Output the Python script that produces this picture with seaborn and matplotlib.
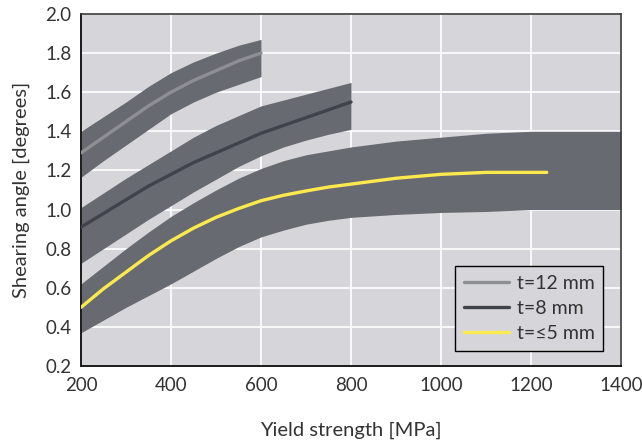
import pandas as pd
import seaborn as sns
import matplotlib.pyplot as plt

# datos
x_12 = [200, 250, 300, 350, 400, 450, 500, 550, 600]
y_12 = [1.29, 1.37, 1.45, 1.53, 1.60, 1.66, 1.71, 1.76, 1.80]
up_12 = [1.40, 1.475, 1.55, 1.63, 1.70, 1.755, 1.80, 1.84, 1.87]
lo_12 = [1.165, 1.25, 1.33, 1.41, 1.49, 1.55, 1.60, 1.64, 1.68]

x_8 = [200, 250, 300, 350, 400, 450, 500, 550, 600, 650, 700, 750, 800]
y_8 = [0.91, 0.98, 1.05, 1.12, 1.18, 1.24, 1.29, 1.34, 1.39, 1.43, 1.47, 1.51, 1.55]
up_8 = [1.01, 1.085, 1.16, 1.23, 1.30, 1.37, 1.43, 1.48, 1.53, 1.56, 1.59, 1.62, 1.65]
lo_8 = [0.725, 0.80, 0.875, 0.95, 1.02, 1.09, 1.155, 1.22, 1.275, 1.32, 1.355, 1.385, 1.41]

x_5 = [200, 250, 300, 350, 400, 450, 500, 550, 600, 650, 700, 750, 800,
       900, 1000, 1100, 1200, 1235]
y_5 = [0.50, 0.595, 0.68, 0.765, 0.84, 0.905, 0.96, 1.005, 1.045, 1.073, 1.095, 1.115, 1.13,
       1.16, 1.18, 1.19, 1.19, 1.19]
x_5_band = [200, 250, 300, 350, 400, 450, 500, 550, 600, 650, 700, 750, 800,
            900, 1000, 1100, 1200, 1300, 1400]
up_5 = [0.62, 0.71, 0.80, 0.885, 0.965, 1.035, 1.10, 1.16, 1.21, 1.25, 1.28, 1.30, 1.32,
        1.35, 1.37, 1.39, 1.40, 1.40, 1.40]
lo_5 = [0.37, 0.435, 0.50, 0.56, 0.62, 0.685, 0.75, 0.81, 0.86, 0.895, 0.925, 0.945, 0.96,
        0.975, 0.985, 0.99, 1.0, 1.0, 1.0]

labels = ["t=12 mm", "t=8 mm", "t=≤5 mm"]
line_colors = ["#8d8f95", "#40434b", "#fbe94e"]
band_color = "#676a71"

sns.set_style("whitegrid", {"axes.facecolor": "#d6d6da", "grid.color": "white"})
plt.rcParams["font.family"] = ["Lato", "DejaVu Sans"]

fig = plt.figure(figsize=(6.42, 4.41), dpi=100)
ax = fig.add_axes([0.1262, 0.1701, 0.8411, 0.7982])

# bandas
ax.fill_between(x_12, lo_12, up_12, color=band_color, lw=0, zorder=2)
ax.fill_between(x_8, lo_8, up_8, color=band_color, lw=0, zorder=2)
ax.fill_between(x_5_band, lo_5, up_5, color=band_color, lw=0, zorder=2)

# lineas
df = pd.concat([
    pd.DataFrame({"x": x_12, "y": y_12, "serie": labels[0]}),
    pd.DataFrame({"x": x_8, "y": y_8, "serie": labels[1]}),
    pd.DataFrame({"x": x_5, "y": y_5, "serie": labels[2]}),
])
sns.lineplot(data=df, x="x", y="y", hue="serie", palette=dict(zip(labels, line_colors)),
             linewidth=2.4, ax=ax, zorder=3, sort=False)

ax.set_xlim(200, 1400)
ax.set_ylim(0.2, 2.0)
ax.set_xticks(range(200, 1401, 200))
ax.set_yticks([0.2, 0.4, 0.6, 0.8, 1.0, 1.2, 1.4, 1.6, 1.8, 2.0])
ax.set_yticklabels([f"{v:.1f}" for v in ax.get_yticks()])
ax.grid(True, color="white", linewidth=1.2)
ax.tick_params(axis="both", labelsize=13.5, labelcolor="#333333", length=0)
ax.tick_params(axis="x", pad=8)
ax.tick_params(axis="y", pad=7)

ax.set_xlabel("Yield strength [MPa]", fontsize=14.5, color="#333333", labelpad=20)
ax.set_ylabel("Shearing angle [degrees]", fontsize=14.5, color="#333333", labelpad=11)

for s in ["left", "bottom"]:
    ax.spines[s].set_color("#1a1a1a")
    ax.spines[s].set_linewidth(1.4)
for s in ["top", "right"]:
    ax.spines[s].set_color("#3a3a3a")
    ax.spines[s].set_linewidth(1.2)

leg = ax.legend(loc="lower right", bbox_to_anchor=(0.967, 0.043), fontsize=14, frameon=True,
                fancybox=False, framealpha=1, edgecolor="black", handlelength=2.3,
                borderpad=0.45, labelspacing=0.42, handletextpad=0.4, borderaxespad=0.0)
leg.get_frame().set_linewidth(1.0)
for t in leg.get_texts():
    t.set_color("#333333")

fig.savefig("out.png", dpi=100)
